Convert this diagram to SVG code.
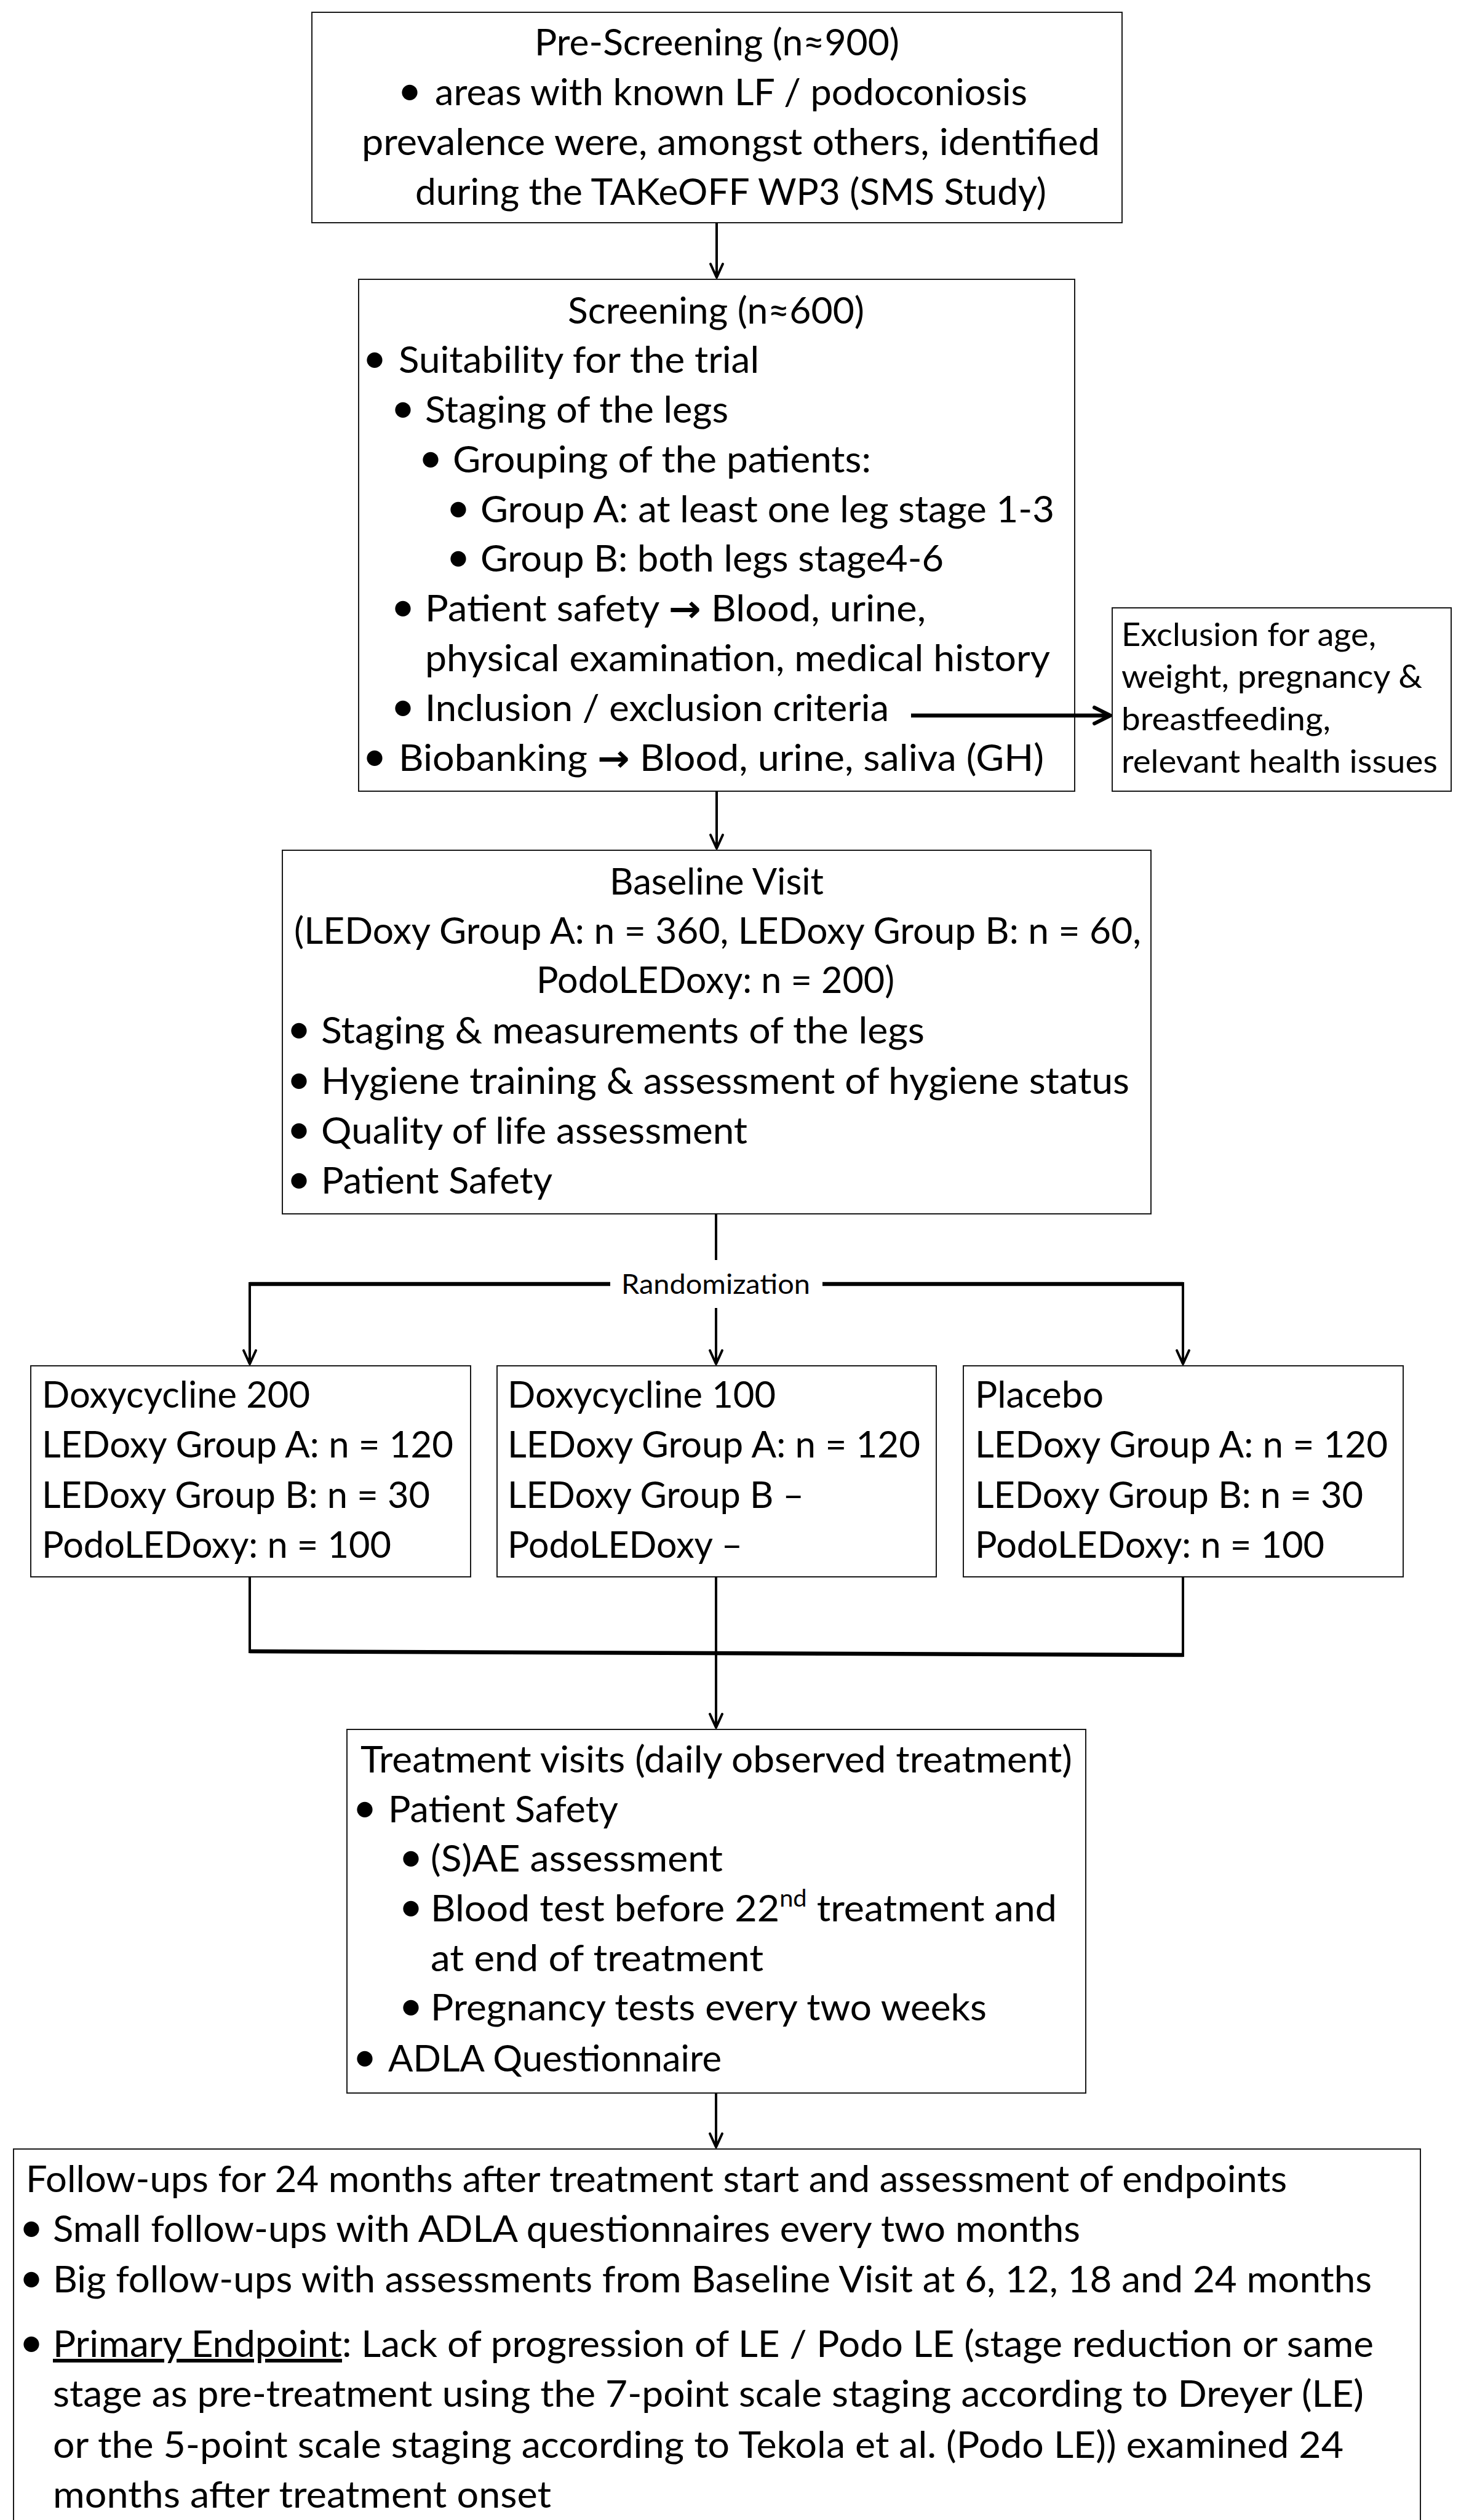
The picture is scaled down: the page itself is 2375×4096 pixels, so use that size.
<svg xmlns="http://www.w3.org/2000/svg" width="2375" height="4096" viewBox="0 0 2375 4096">
<style>
.box{fill:#fff;stroke:#1a1a1a;stroke-width:2}
.t{font-family:Lato,'Liberation Sans','DejaVu Sans',sans-serif;font-size:60px;fill:#000}
.b{font-family:Lato,'Liberation Sans','DejaVu Sans',sans-serif;font-size:68px;fill:#000;text-anchor:middle}
.s{font-size:52px}
.r{font-size:45px}
.ar{font-family:'DejaVu Sans',sans-serif;font-weight:bold}
.c{stroke:#000;stroke-width:4;fill:none}
.ct{stroke:#000;stroke-width:6.5;fill:none}
</style>
<defs>
<marker id="arr" markerUnits="userSpaceOnUse" viewBox="0 0 30 24" refX="27" refY="12" markerWidth="30" markerHeight="24" orient="auto" overflow="visible">
<path d="M5,2 L27,12 L5,22" fill="none" stroke="#000" stroke-width="4" stroke-linecap="round" stroke-linejoin="round"/>
</marker>
<marker id="arrT" markerUnits="userSpaceOnUse" viewBox="0 0 32 30" refX="29" refY="15" markerWidth="32" markerHeight="30" orient="auto" overflow="visible">
<path d="M3,2 L29,15 L3,28" fill="none" stroke="#000" stroke-width="6" stroke-linecap="round" stroke-linejoin="round"/>
</marker>
</defs>
<rect width="2375" height="4096" fill="#fff"/>

<g id="prescreening">
<rect class="box" x="507" y="20" width="1317" height="342"/>
<text class="t" x="869" y="90" textLength="593" lengthAdjust="spacingAndGlyphs">Pre-Screening (n≈900)</text>
<text class="b" x="666" y="171">•</text>
<text class="t" x="707" y="171" textLength="963" lengthAdjust="spacingAndGlyphs">areas with known LF / podoconiosis</text>
<text class="t" x="588" y="252" textLength="1200" lengthAdjust="spacingAndGlyphs">prevalence were, amongst others, identified</text>
<text class="t" x="675" y="333" textLength="1026" lengthAdjust="spacingAndGlyphs">during the TAKeOFF WP3 (SMS Study)</text>
</g>

<g id="screening">
<rect class="box" x="583" y="454" width="1164" height="832"/>
<text class="t" x="923" y="526" textLength="482" lengthAdjust="spacingAndGlyphs">Screening (n≈600)</text>
<text class="b" x="609" y="606">•</text>
<text class="t" x="648" y="606" textLength="586" lengthAdjust="spacingAndGlyphs">Suitability for the trial</text>
<text class="b" x="655" y="687">•</text>
<text class="t" x="691" y="687" textLength="493" lengthAdjust="spacingAndGlyphs">Staging of the legs</text>
<text class="b" x="700" y="768">•</text>
<text class="t" x="736" y="768" textLength="680" lengthAdjust="spacingAndGlyphs">Grouping of the patients:</text>
<text class="b" x="745" y="849">•</text>
<text class="t" x="781" y="849" textLength="933" lengthAdjust="spacingAndGlyphs">Group A: at least one leg stage 1-3</text>
<text class="b" x="745" y="929">•</text>
<text class="t" x="781" y="929" textLength="753" lengthAdjust="spacingAndGlyphs">Group B: both legs stage4-6</text>
<text class="b" x="655" y="1010">•</text>
<text class="t" x="691" y="1010" textLength="814" lengthAdjust="spacingAndGlyphs">Patient safety <tspan class="ar">→</tspan> Blood, urine,</text>
<text class="t" x="691" y="1091" textLength="1016" lengthAdjust="spacingAndGlyphs">physical examination, medical history</text>
<text class="b" x="655" y="1172">•</text>
<text class="t" x="691" y="1172" textLength="754" lengthAdjust="spacingAndGlyphs">Inclusion / exclusion criteria</text>
<text class="b" x="609" y="1253">•</text>
<text class="t" x="648" y="1253" textLength="1049" lengthAdjust="spacingAndGlyphs">Biobanking <tspan class="ar">→</tspan> Blood, urine, saliva (GH)</text>
</g>

<g id="exclusion">
<rect class="box" x="1808" y="988" width="551" height="298"/>
<text class="t s" x="1823" y="1050" textLength="414" lengthAdjust="spacingAndGlyphs">Exclusion for age,</text>
<text class="t s" x="1823" y="1118" textLength="489" lengthAdjust="spacingAndGlyphs">weight, pregnancy &amp;</text>
<text class="t s" x="1823" y="1187" textLength="340" lengthAdjust="spacingAndGlyphs">breastfeeding,</text>
<text class="t s" x="1823" y="1256" textLength="514" lengthAdjust="spacingAndGlyphs">relevant health issues</text>
</g>

<g id="baseline">
<rect class="box" x="459" y="1382" width="1412" height="591"/>
<text class="t" x="991" y="1454" textLength="348" lengthAdjust="spacingAndGlyphs">Baseline Visit</text>
<text class="t" x="478" y="1534" textLength="1377" lengthAdjust="spacingAndGlyphs">(LEDoxy Group A: n = 360, LEDoxy Group B: n = 60,</text>
<text class="t" x="872" y="1614" textLength="582" lengthAdjust="spacingAndGlyphs">PodoLEDoxy: n = 200)</text>
<text class="b" x="486" y="1696">•</text>
<text class="t" x="522" y="1696" textLength="981" lengthAdjust="spacingAndGlyphs">Staging &amp; measurements of the legs</text>
<text class="b" x="486" y="1778">•</text>
<text class="t" x="522" y="1778" textLength="1314" lengthAdjust="spacingAndGlyphs">Hygiene training &amp; assessment of hygiene status</text>
<text class="b" x="486" y="1859">•</text>
<text class="t" x="522" y="1859" textLength="693" lengthAdjust="spacingAndGlyphs">Quality of life assessment</text>
<text class="b" x="486" y="1940">•</text>
<text class="t" x="522" y="1940" textLength="376" lengthAdjust="spacingAndGlyphs">Patient Safety</text>
</g>

<g id="doxy200">
<rect class="box" x="50" y="2220" width="715" height="343"/>
<text class="t" x="68" y="2288" textLength="436" lengthAdjust="spacingAndGlyphs">Doxycycline 200</text>
<text class="t" x="68" y="2369" textLength="669" lengthAdjust="spacingAndGlyphs">LEDoxy Group A: n = 120</text>
<text class="t" x="68" y="2451" textLength="631" lengthAdjust="spacingAndGlyphs">LEDoxy Group B: n = 30</text>
<text class="t" x="68" y="2532" textLength="568" lengthAdjust="spacingAndGlyphs">PodoLEDoxy: n = 100</text>
</g>

<g id="doxy100">
<rect class="box" x="808" y="2220" width="714" height="343"/>
<text class="t" x="825" y="2288" textLength="436" lengthAdjust="spacingAndGlyphs">Doxycycline 100</text>
<text class="t" x="825" y="2369" textLength="671" lengthAdjust="spacingAndGlyphs">LEDoxy Group A: n = 120</text>
<text class="t" x="825" y="2451" textLength="482" lengthAdjust="spacingAndGlyphs">LEDoxy Group B –</text>
<text class="t" x="825" y="2532" textLength="382" lengthAdjust="spacingAndGlyphs">PodoLEDoxy –</text>
</g>

<g id="placebo">
<rect class="box" x="1566" y="2220" width="715" height="343"/>
<text class="t" x="1585" y="2288" textLength="209" lengthAdjust="spacingAndGlyphs">Placebo</text>
<text class="t" x="1585" y="2369" textLength="671" lengthAdjust="spacingAndGlyphs">LEDoxy Group A: n = 120</text>
<text class="t" x="1585" y="2451" textLength="631" lengthAdjust="spacingAndGlyphs">LEDoxy Group B: n = 30</text>
<text class="t" x="1585" y="2532" textLength="568" lengthAdjust="spacingAndGlyphs">PodoLEDoxy: n = 100</text>
</g>

<g id="treatment">
<rect class="box" x="564" y="2811" width="1201" height="591"/>
<text class="t" x="586" y="2881" textLength="1157" lengthAdjust="spacingAndGlyphs">Treatment visits (daily observed treatment)</text>
<text class="b" x="593" y="2962">•</text>
<text class="t" x="631" y="2962" textLength="374" lengthAdjust="spacingAndGlyphs">Patient Safety</text>
<text class="b" x="668" y="3042">•</text>
<text class="t" x="700" y="3042" textLength="475" lengthAdjust="spacingAndGlyphs">(S)AE assessment</text>
<text class="b" x="668" y="3123">•</text>
<text class="t" x="700" y="3123" textLength="1018" lengthAdjust="spacingAndGlyphs">Blood test before 22<tspan font-size="38" dy="-24">nd</tspan><tspan dy="24"> treatment and</tspan></text>
<text class="t" x="700" y="3204" textLength="541" lengthAdjust="spacingAndGlyphs">at end of treatment</text>
<text class="b" x="668" y="3284">•</text>
<text class="t" x="700" y="3284" textLength="904" lengthAdjust="spacingAndGlyphs">Pregnancy tests every two weeks</text>
<text class="b" x="593" y="3367">•</text>
<text class="t" x="631" y="3367" textLength="542" lengthAdjust="spacingAndGlyphs">ADLA Questionnaire</text>
</g>

<g id="followup">
<rect class="box" x="22" y="3493" width="2287" height="700"/>
<text class="t" x="42" y="3563" textLength="2050" lengthAdjust="spacingAndGlyphs">Follow-ups for 24 months after treatment start and assessment of endpoints</text>
<text class="b" x="51" y="3644">•</text>
<text class="t" x="86" y="3644" textLength="1670" lengthAdjust="spacingAndGlyphs">Small follow-ups with ADLA questionnaires every two months</text>
<text class="b" x="51" y="3726">•</text>
<text class="t" x="86" y="3726" textLength="2144" lengthAdjust="spacingAndGlyphs">Big follow-ups with assessments from Baseline Visit at 6, 12, 18 and 24 months</text>
<text class="b" x="51" y="3831">•</text>
<text class="t" x="86" y="3831" textLength="2147" lengthAdjust="spacingAndGlyphs"><tspan text-decoration="underline">Primary Endpoint</tspan>: Lack of progression of LE / Podo LE (stage reduction or same</text>
<text class="t" x="86" y="3912" textLength="2131" lengthAdjust="spacingAndGlyphs">stage as pre-treatment using the 7-point scale staging according to Dreyer (LE)</text>
<text class="t" x="86" y="3995" textLength="2098" lengthAdjust="spacingAndGlyphs">or the 5-point scale staging according to Tekola et al. (Podo LE)) examined 24</text>
<text class="t" x="86" y="4076" textLength="810" lengthAdjust="spacingAndGlyphs">months after treatment onset</text>
</g>

<g id="connectors">
<line class="c" x1="1165" y1="362" x2="1165" y2="451" marker-end="url(#arr)"/>
<line class="ct" x1="1481" y1="1163" x2="1805" y2="1163" marker-end="url(#arrT)"/>
<line class="c" x1="1165" y1="1286" x2="1165" y2="1379" marker-end="url(#arr)"/>
<line class="c" x1="1164" y1="1973" x2="1164" y2="2048"/>
<line class="ct" x1="406" y1="2087" x2="992" y2="2087"/>
<line class="ct" x1="1337" y1="2087" x2="1923" y2="2087"/>
<line class="c" x1="406" y1="2084" x2="406" y2="2217" marker-end="url(#arr)"/>
<line class="c" x1="1923" y1="2084" x2="1923" y2="2217" marker-end="url(#arr)"/>
<line class="c" x1="1164" y1="2126" x2="1164" y2="2217" marker-end="url(#arr)"/>
<line class="c" x1="406" y1="2563" x2="406" y2="2687"/>
<line class="c" x1="1923" y1="2563" x2="1923" y2="2693"/>
<line class="ct" x1="406" y1="2684" x2="1923" y2="2690"/>
<line class="c" x1="1164" y1="2563" x2="1164" y2="2808" marker-end="url(#arr)"/>
<line class="c" x1="1164" y1="3402" x2="1164" y2="3490" marker-end="url(#arr)"/>
<text class="t r" x="1010" y="2103" textLength="307" lengthAdjust="spacingAndGlyphs">Randomization</text>
</g>
</svg>
